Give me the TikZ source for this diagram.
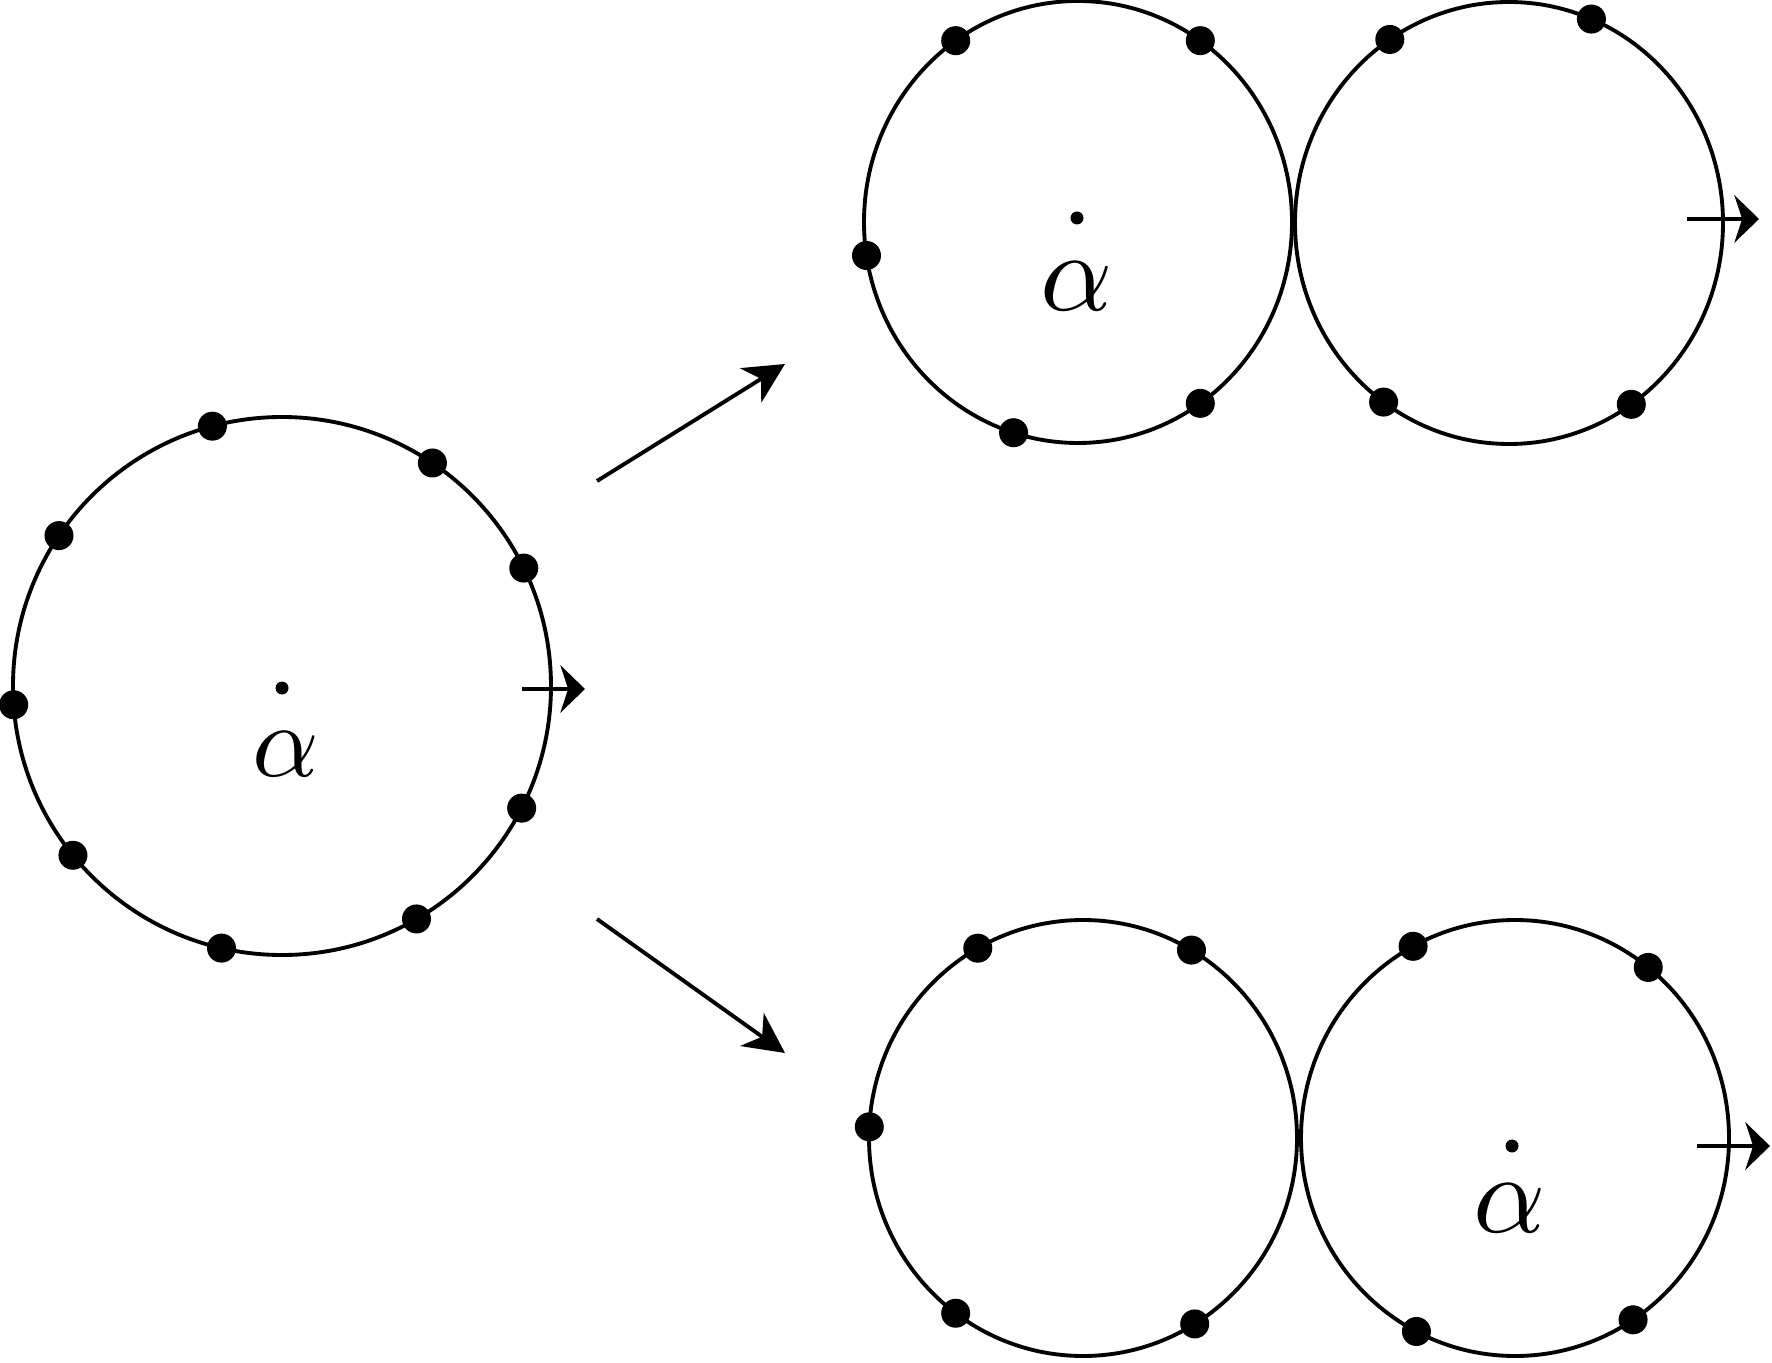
\documentclass[tikz,border=0pt]{standalone}
\usetikzlibrary{shapes.geometric,arrows.meta}
\begin{document}
\begin{tikzpicture}[
    line width=1.1pt,
    ring/.style={circle, draw, inner sep=0pt, outer sep=0pt, minimum size=5.38cm},
    oval/.style={ellipse, draw, inner sep=0pt, outer sep=0pt, minimum width=4.28cm, minimum height=4.42cm},
    pt/.style={circle, fill, inner sep=0pt, minimum size=0.29cm},
    ctr/.style={circle, fill, inner sep=0pt, minimum size=0.13cm},
    lbl/.style={inner sep=0pt},
    bigarr/.style={-{Stealth[length=11.5pt, width=11.5pt, inset=3.5pt]}},
    smallarr/.style={-{Stealth[length=7pt, width=13.5pt, inset=2.2pt]}}
  ]
    \useasboundingbox (0, 0) rectangle (17.72, -13.63);

    % 円を描く
    \node[ring] (C0) at (2.82, -6.86) {};
    \node[oval] (T1) at (10.78, -2.22) {};
    \node[oval] (T2) at (15.09, -2.23) {};
    \node[oval, minimum height=4.36cm] (B1) at (10.83, -11.38) {};
    \node[oval, minimum height=4.36cm] (B2) at (15.15, -11.38) {};

    % 点を打つ
    \node[pt] (c1) at (C0.26) {};
    \node[pt] (c2) at (C0.56) {};
    \node[pt] (c3) at (C0.105) {};
    \node[pt] (c4) at (C0.146) {};
    \node[pt] (c5) at (C0.184) {};
    \node[pt] (c6) at (C0.219) {};
    \node[pt] (c7) at (C0.257) {};
    \node[pt] (c8) at (C0.300) {};
    \node[pt] (c9) at (C0.333) {};

    \node[pt] (t1) at (T1.56) {};
    \node[pt] (t2) at (T1.124) {};
    \node[pt] (t3) at (T1.189) {};
    \node[pt] (t4) at (T1.253) {};
    \node[pt] (t5) at (T1.304) {};
    \node[pt] (t6) at (T2.68) {};
    \node[pt] (t7) at (T2.123) {};
    \node[pt] (t8) at (T2.235) {};
    \node[pt] (t9) at (T2.304) {};

    \node[pt] (b1) at (B1.60) {};
    \node[pt] (b2) at (B1.119) {};
    \node[pt] (b3) at (B1.177) {};
    \node[pt] (b4) at (B1.234) {};
    \node[pt] (b5) at (B1.301) {};
    \node[pt] (b6) at (B2.52) {};
    \node[pt] (b7) at (B2.118) {};
    \node[pt] (b8) at (B2.243) {};
    \node[pt] (b9) at (B2.303) {};

    % 中心と文字
    \node[ctr] (m0) at (2.82, -6.88) {};
    \node[ctr] (m1) at (10.77, -2.18) {};
    \node[ctr] (m2) at (15.12, -11.46) {};
    \node[lbl] (a0) at (2.86, -7.54) {\scalebox{2.95}{$\alpha$}};
    \node[lbl] (a1) at (10.77, -2.86) {\scalebox{3.2}{$\alpha$}};
    \node[lbl] (a2) at (15.10, -12.08) {\scalebox{3.2}{$\alpha$}};

    % 矢印
    \coordinate (s1) at (5.97, -4.81);
    \coordinate (e1) at (7.85, -3.64);
    \coordinate (s2) at (5.97, -9.19);
    \coordinate (e2) at (7.85, -10.53);
    \draw[bigarr] (s1) -- (e1);
    \draw[bigarr] (s2) -- (e2);

    \coordinate (h0) at (5.22, -6.89);
    \coordinate (k0) at (5.85, -6.89);
    \coordinate (h1) at (16.87, -2.19);
    \coordinate (k1) at (17.59, -2.19);
    \coordinate (h2) at (16.97, -11.46);
    \coordinate (k2) at (17.70, -11.46);
    \draw[smallarr] (h0) -- (k0);
    \draw[smallarr] (h1) -- (k1);
    \draw[smallarr] (h2) -- (k2);

  \end{tikzpicture}
\end{document}
